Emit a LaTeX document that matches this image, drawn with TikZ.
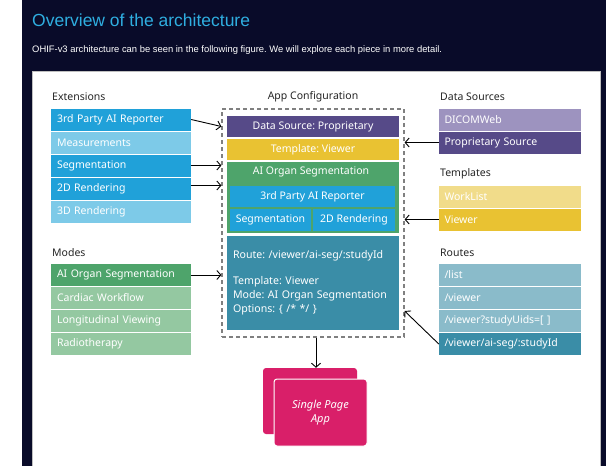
\documentclass[tikz,border=0pt]{standalone}
\usepackage{fontspec}
\setmainfont{Noto Sans}
\newfontfamily\headfont{Liberation Sans}
\usepackage{tikz}
\usetikzlibrary{arrows.meta}
\frenchspacing

\definecolor{navybg}{HTML}{090B29}
\definecolor{titlecyan}{HTML}{2FAEE0}
\definecolor{extdark}{HTML}{20A1D9}
\definecolor{extlight}{HTML}{7DCAE8}
\definecolor{dsdark}{HTML}{564A88}
\definecolor{dslight}{HTML}{9D93BF}
\definecolor{tpldark}{HTML}{E9C232}
\definecolor{tpllight}{HTML}{F1DC8A}
\definecolor{modedark}{HTML}{4EA46B}
\definecolor{modelight}{HTML}{94C8A1}
\definecolor{routedark}{HTML}{3A8DA7}
\definecolor{routelight}{HTML}{8ABBCA}
\definecolor{spapink}{HTML}{D91F69}

\tikzstyle{arrow} = [line width=0.9pt,->,>={Straight Barb[length=4pt,width=9pt]}]
\tikzstyle{heading} = [anchor=west, inner sep=0pt, text=black!85, font=\fontsize{10.5}{12}\selectfont]
\tikzstyle{lbox} = [rectangle, minimum width=140pt, minimum height=22pt, text width=128pt, inner xsep=6pt, inner ysep=0pt, align=left, text=white, font=\fontsize{10.5}{12}\selectfont]
\tikzstyle{rbox} = [lbox, minimum width=142pt, text width=131pt, inner xsep=5.5pt]
\tikzstyle{cbox} = [rectangle, minimum width=172pt, minimum height=21pt, inner sep=0pt, text=white, font=\fontsize{10.5}{12}\selectfont]
\tikzstyle{card} = [rectangle, rounded corners=3pt, fill=spapink, minimum width=94pt, minimum height=66pt]

\begin{document}
\begin{tikzpicture}[x=1pt, y=-1pt, node distance=23pt]
    \useasboundingbox (0,0) rectangle (613,466);
    \fill[navybg] (22,0) rectangle (606,466);
    \fill[white] (32,71) rectangle (600,466);
    \draw[gray!50, line width=0.8pt] (32,466) -- (32,71) -- (600,71) -- (600,466);

    \node (title) [anchor=west, inner sep=0pt, text=titlecyan, font=\headfont\fontsize{17.5}{20}\selectfont] at (32,20) {Overview of the architecture};
    \node (intro) [anchor=west, inner sep=0pt, text=white, font=\headfont\fontsize{9.4}{11}\selectfont] at (32,50) {OHIF-v3 architecture can be seen in the following figure. We will explore each piece in more detail.};

    % extensions
    \node (ext_head) [heading] at (52,97) {Extensions};
    \node (ext_3rd) [lbox, fill=extdark] at (121,119.5) {3rd Party AI Reporter};
    \node (ext_meas) [lbox, fill=extlight, below of=ext_3rd] {Measurements};
    \node (ext_seg) [lbox, fill=extdark, below of=ext_meas] {Segmentation};
    \node (ext_2d) [lbox, fill=extdark, below of=ext_seg] {2D Rendering};
    \node (ext_3d) [lbox, fill=extlight, below of=ext_2d] {3D Rendering};

    % modes
    \node (mode_head) [heading] at (52,253) {Modes};
    \node (mode_ai) [lbox, fill=modedark] at (121,275) {AI Organ Segmentation};
    \node (mode_card) [lbox, fill=modelight, below of=mode_ai] {Cardiac Workflow};
    \node (mode_long) [lbox, fill=modelight, below of=mode_card] {Longitudinal Viewing};
    \node (mode_radio) [lbox, fill=modelight, below of=mode_long] {Radiotherapy};

    % data sources, templates, routes
    \node (ds_head) [heading] at (440,97) {Data Sources};
    \node (ds_dicom) [rbox, fill=dslight] at (510,119.5) {DICOMWeb};
    \node (ds_prop) [rbox, fill=dsdark, below of=ds_dicom] {Proprietary Source};
    \node (tpl_head) [heading] at (440,174) {Templates};
    \node (tpl_work) [rbox, fill=tpllight] at (510,196.5) {WorkList};
    \node (tpl_view) [rbox, fill=tpldark, below of=tpl_work] {Viewer};
    \node (route_head) [heading] at (440,253) {Routes};
    \node (route_list) [rbox, fill=routelight] at (510,275) {/list};
    \node (route_view) [rbox, fill=routelight, below of=route_list] {/viewer};
    \node (route_uids) [rbox, fill=routelight, below of=route_view] {/viewer?studyUids=[\ ]};
    \node (route_ai) [rbox, fill=routedark, below of=route_uids] {/viewer/ai-seg/:studyId};

    % app configuration
    \node (cfg_head) [heading, anchor=center] at (313,97) {App Configuration};
    \node (cfg) [draw=gray, line width=1.2pt, dash pattern=on 4pt off 3pt, minimum width=182pt, minimum height=228pt, inner sep=0pt] at (313,223) {};
    \node (cfg_ds) [cbox, fill=dsdark] at (313,126.5) {Data Source: Proprietary};
    \node (cfg_tpl) [cbox, fill=tpldark, below of=cfg_ds] {Template: Viewer};
    \node (cfg_mode) [cbox, fill=modedark, minimum height=71pt] at (313,197.5) {};
    \node (cfg_mode_txt) [inner sep=0pt, text=white, font=\fontsize{10.5}{12}\selectfont] at (311,172) {AI Organ Segmentation};
    \node (cfg_3rd) [cbox, fill=extdark, minimum width=165pt] at (312.5,196.5) {3rd Party AI Reporter};
    \node (cfg_seg) [cbox, fill=extdark, minimum width=81pt, minimum height=22pt] at (270.5,220) {Segmentation};
    \node (cfg_2d) [cbox, fill=extdark, minimum width=82pt, minimum height=22pt] at (354,220) {2D Rendering};
    \node (cfg_route) [rectangle, fill=routedark, minimum width=172pt, minimum height=94pt, text width=160pt, inner xsep=6pt, align=left, text=white, font=\fontsize{10.6}{14}\selectfont] at (313,283) {Route: /viewer/ai-seg/:studyId\\[12pt] Template: Viewer\\ Mode: AI Organ Segmentation\\ Options: \{ /* */ \}};

    % single page app
    \node (spa_back) [card] at (310,401) {};
    \node (spa_front) [card, draw=white, line width=1pt, minimum width=93pt, minimum height=67pt, text=white, align=center, font=\itshape\fontsize{11}{13.5}\selectfont] at (320.5,412.5) {Single Page\\App};

    % connectors
    \draw [arrow] (ext_3rd.east) -- (cfg.west |- cfg_ds.center);
    \draw [arrow] (ext_seg.east) -- (ext_seg.east -| cfg.west);
    \draw [arrow] ([yshift=3pt]ext_2d.east) -- ([yshift=3pt]ext_2d.east -| cfg.west);
    \draw [arrow] (mode_ai.east) -- (mode_ai.east -| cfg.west);
    \draw [arrow] (ds_prop.west) -- (ds_prop.west -| cfg.east);
    \draw [arrow] (tpl_view.west) -- (tpl_view.west -| cfg.east);
    \draw [arrow] (route_ai.west) -- ([yshift=-88pt]cfg.east);
    \draw [arrow] ([xshift=3pt]cfg.south) -- ([xshift=3pt]cfg.south |- spa_back.north);

\end{tikzpicture}
\end{document}
